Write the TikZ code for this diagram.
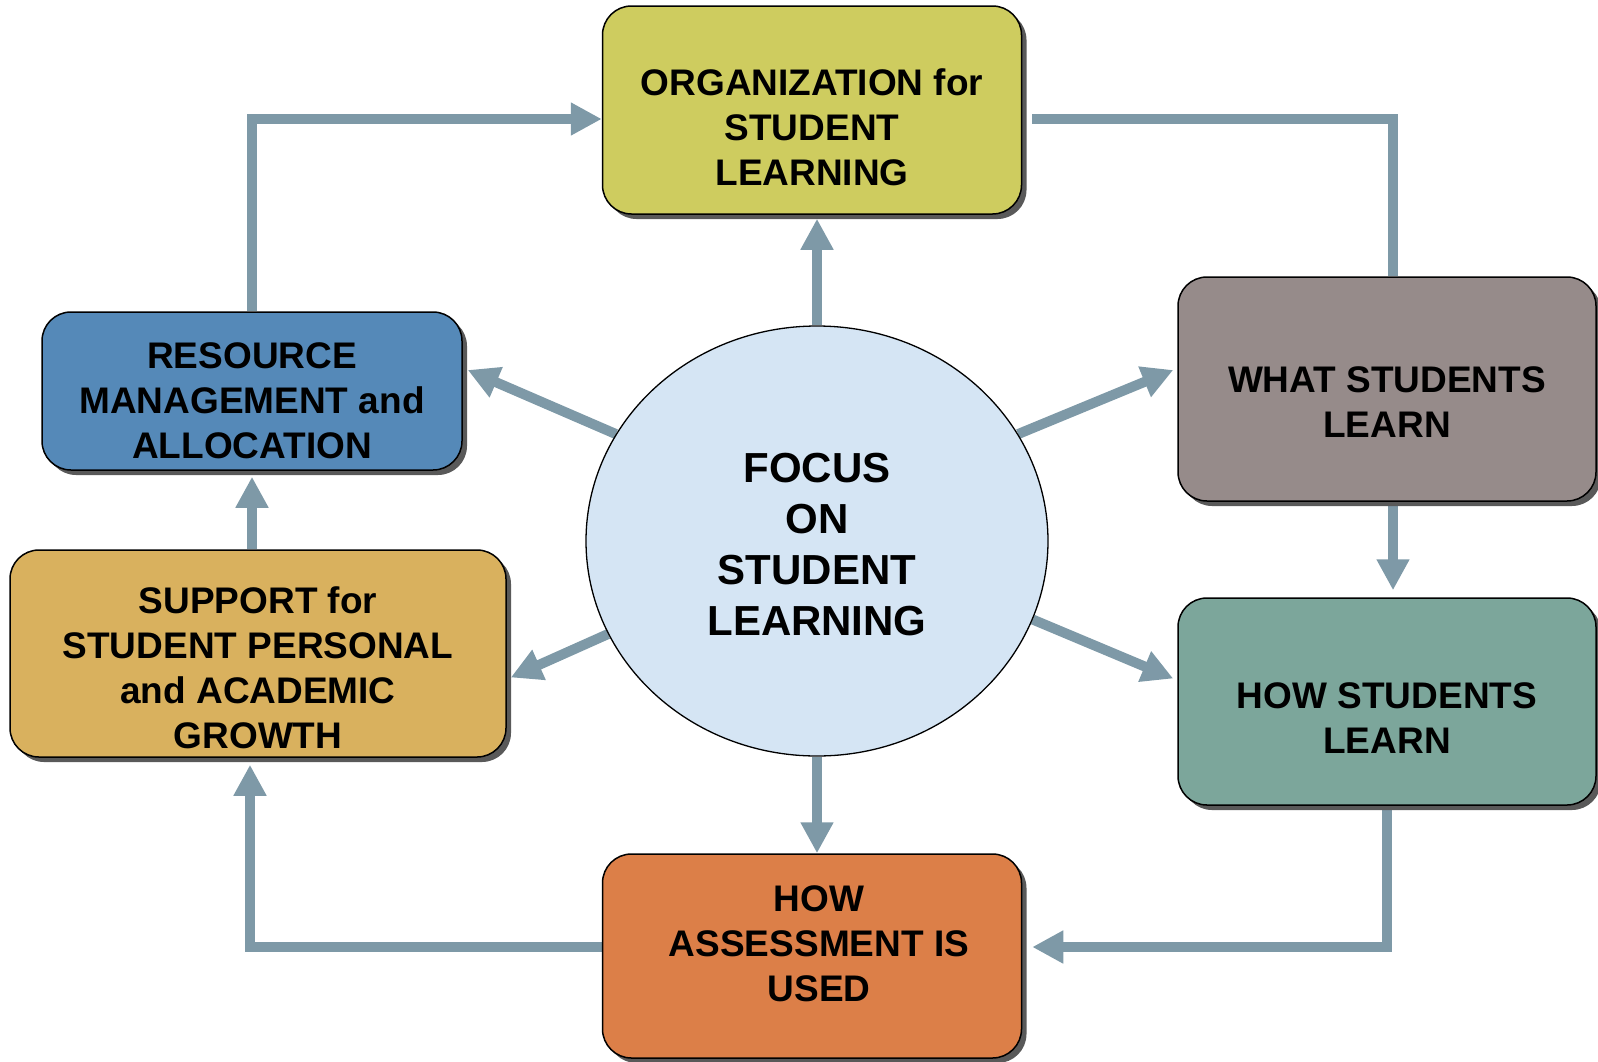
\documentclass[tikz,border=0pt]{standalone}
\usepackage{fontspec}
\setmainfont{Liberation Sans}
\usepackage{tikz}
\usetikzlibrary{positioning,arrows.meta,shapes.geometric,shadows,backgrounds}
\definecolor{orgcol}{HTML}{CECC5F}
\definecolor{rescol}{HTML}{5589B8}
\definecolor{supcol}{HTML}{D9B15E}
\definecolor{whatcol}{HTML}{968B8A}
\definecolor{howcol}{HTML}{7CA69B}
\definecolor{asmtcol}{HTML}{DC7F48}
\definecolor{focuscol}{HTML}{D5E5F4}
\definecolor{arrowcol}{HTML}{7E99A7}

\begin{document}
\begin{tikzpicture}[x=1pt, y=-1pt,
    box/.style = {draw, line width=1.5pt, rounded corners=29pt, minimum width=419pt, inner sep=0pt,
        drop shadow={shadow xshift=5pt, shadow yshift=-5pt, fill=black!65, opacity=1}},
    txt/.style = {align=center, inner sep=0pt, font=\fontsize{37}{45}\selectfont\bfseries},
    flow/.style = {line width=10pt, arrowcol, -{Triangle[length=31pt, width=31pt]}}]
    \useasboundingbox (0,0) rectangle (1598,1061);

    \node[box, fill=orgcol, minimum height=208pt] (org) at (812,110) {};
    \node[txt] (orgtxt) at (812,127) {ORGANIZATION for\\STUDENT\\LEARNING};
    \node[box, fill=rescol, minimum width=420pt, minimum height=158pt] (res) at (252,391) {};
    \node[txt] (restxt) at (252,401) {RESOURCE\\MANAGEMENT and\\ALLOCATION};
    \node[box, fill=supcol, minimum width=496pt, minimum height=207pt] (sup) at (258,653.5) {};
    \node[txt] (suptxt) at (258,667.5) {SUPPORT for\\STUDENT PERSONAL\\and ACADEMIC\\GROWTH};
    \node[box, fill=whatcol, minimum width=418pt, minimum height=224pt] (what) at (1387,389) {};
    \node[txt] (whattxt) at (1387,402) {WHAT STUDENTS\\LEARN};
    \node[box, fill=howcol, minimum width=418pt, minimum height=207pt] (how) at (1387,701.5) {};
    \node[txt] (howtxt) at (1387,718.5) {HOW STUDENTS\\LEARN};
    \node[box, fill=asmtcol, minimum height=204pt] (asmt) at (812,956) {};
    \node[txt] (asmttxt) at (819,943.5) {HOW\\ASSESSMENT IS\\USED};
    \node[ellipse, draw, line width=1.3pt, fill=focuscol, minimum width=462pt, minimum height=430pt, inner sep=0pt] (focus) at (817,541) {};
    \node[txt, font=\fontsize{42}{51}\selectfont\bfseries] (focustxt) at (817,545) {FOCUS\\ON\\STUDENT\\LEARNING};

    \begin{scope}[on background layer]
        \draw[flow] (res.north) |- ([yshift=-9pt]org.west);
        \draw[line width=10pt, arrowcol] ([shift={(10,9)}]org.east) -| ([xshift=6pt]what.north);
        \draw[flow, shorten >=7pt] ([xshift=6pt]what.south) -- ([xshift=6pt]how.north);
        \draw[flow, shorten >=10pt] (how.south) |- ([yshift=9pt]asmt.east);
        \draw[flow, shorten >=7pt] ([yshift=9pt]asmt.west) -| ([xshift=-8pt]sup.south);
        \draw[flow, shorten >=6pt] ([xshift=-6pt]sup.north) -- (res.south);
        \draw[flow, shorten >=4pt] (focus.north) -- (focus.north |- org.south);
        \draw[flow] (focus.south) -- (focus.south |- asmt.north);
        \draw[flow] (focus.152) -- ([shift={(5,-21)}]res.east);
        \draw[flow] (focus.28) -- ([shift={(-4,-19)}]what.west);
        \draw[flow] (focus.340) -- ([shift={(-4,-23)}]how.west);
        \draw[flow] (focus.204) -- ([shift={(4,24)}]sup.east);
    \end{scope}
\end{tikzpicture}
\end{document}
